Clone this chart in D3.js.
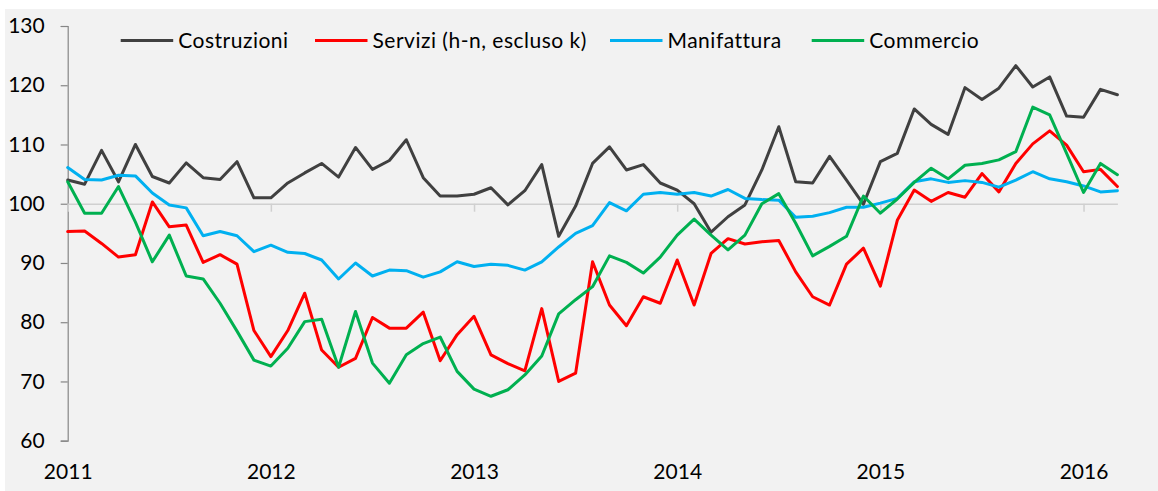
<!DOCTYPE html>
<html>
<head>
<meta charset="utf-8">
<script src="https://cdn.jsdelivr.net/npm/d3@7"></script>
<style>
  html, body { margin: 0; padding: 0; background: #ffffff; }
  svg { display: block; }
  text { font-family: Lato, "Open Sans", sans-serif; fill: #000; }
</style>
</head>
<body>
<svg id="chart" width="1158" height="491"></svg>
<script>
// ---- Data (monthly, Jan 2011 - Mar 2016) ----
const yearLabels = ["2011", "2012", "2013", "2014", "2015", "2016"];
const yTicks = [60, 70, 80, 90, 100, 110, 120, 130];
const seriesNames = ["Costruzioni", "Servizi (h-n, escluso k)", "Manifattura", "Commercio"];

const costruzioni = [104.0,103.3,109.0,103.7,110.0,104.6,103.5,106.9,104.4,104.1,107.1,101.0,
  101.0,103.5,105.2,106.8,104.5,109.5,105.8,107.3,110.8,104.4,101.3,101.3,
  101.6,102.7,99.8,102.2,106.6,94.5,99.6,106.8,109.6,105.7,106.6,103.5,
  102.3,100.0,95.2,97.8,99.8,105.7,113.0,103.7,103.5,108.0,104.0,99.9,
  107.1,108.5,116.0,113.4,111.7,119.6,117.6,119.5,123.3,119.7,121.4,114.8,
  114.6,119.3,118.4];
const servizi = [95.3,95.4,93.3,91.0,91.4,100.3,96.1,96.4,90.1,91.4,89.8,78.6,
  74.2,78.6,84.9,75.3,72.4,73.9,80.8,79.0,79.0,81.7,73.5,77.9,
  81.0,74.5,73.0,71.8,82.3,70.0,71.4,90.2,82.9,79.4,84.3,83.2,
  90.5,82.9,91.6,94.1,93.2,93.6,93.8,88.5,84.3,82.9,89.8,92.5,
  86.1,97.2,102.3,100.4,101.9,101.1,105.1,102.0,106.8,110.1,112.3,109.9,
  105.4,105.8,102.9];
const manifattura = [106.1,104.1,104.0,104.8,104.7,101.8,99.8,99.3,94.6,95.3,94.6,91.9,
  93.0,91.8,91.6,90.5,87.3,90.0,87.8,88.8,88.7,87.6,88.5,90.2,
  89.4,89.8,89.6,88.8,90.2,92.7,95.0,96.3,100.2,98.8,101.6,101.9,
  101.6,101.9,101.3,102.4,100.9,100.7,100.6,97.7,97.9,98.5,99.4,99.4,
  100.1,100.9,103.7,104.2,103.6,103.9,103.6,102.8,104.0,105.4,104.2,103.7,
  103.0,102.0,102.2];
const commercio = [103.7,98.4,98.4,102.9,96.9,90.2,94.7,87.8,87.3,83.2,78.5,73.6,
  72.6,75.6,80.1,80.5,72.4,81.8,73.1,69.7,74.5,76.4,77.5,71.7,
  68.7,67.5,68.6,71.1,74.3,81.4,83.8,86.0,91.2,90.1,88.3,91.0,
  94.7,97.4,94.7,92.2,94.7,100.0,101.7,96.7,91.2,92.8,94.5,101.3,
  98.4,100.8,103.6,106.0,104.2,106.5,106.8,107.4,108.8,116.3,115.0,108.5,
  101.9,106.8,104.9];

const seriesValues = [costruzioni, servizi, manifattura, commercio];
const seriesColors = ["#404040", "#FF0000", "#00B0F0", "#00B050"];

// ---- Layout ----
const svg = d3.select("#chart");
svg.append("rect").attr("x", 5).attr("y", 9).attr("width", 1153).attr("height", 482).attr("fill", "#F2F2F2");

const n = costruzioni.length;
const x = d3.scaleLinear().domain([0, n - 1]).range([67.7, 1117.4]);
const y = d3.scaleLinear().domain([60, 130]).range([440.7, 26]);

// Y axis
const yAxis = d3.axisLeft(y).tickValues(yTicks).tickSize(7).tickPadding(16).tickFormat(d3.format("d"));
const gy = svg.append("g").attr("transform", `translate(${x(0)},0)`).call(yAxis);
gy.select(".domain").attr("stroke", "#868686").attr("stroke-width", 1.2);
gy.selectAll(".tick line").attr("stroke", "#868686").attr("stroke-width", 1.2);
gy.selectAll(".tick text").style("font-size", "21px").attr("fill", "#000");

// X axis line at y=100 with yearly ticks
const janIdx = yearLabels.map((d, i) => i * 12);
const xAxis = d3.axisBottom(x).tickValues(janIdx).tickSize(8).tickSizeOuter(0).tickFormat("");
const gx = svg.append("g").attr("transform", `translate(0,${y(100)})`).call(xAxis);
gx.select(".domain").attr("stroke", "#D0D0D0").attr("stroke-width", 1.5);
gx.selectAll(".tick line").attr("stroke", "#D0D0D0").attr("stroke-width", 1.5);

// Year labels at bottom
const labelAxis = d3.axisBottom(x).tickValues(janIdx).tickSize(0).tickPadding(0)
  .tickFormat((d, i) => yearLabels[i]);
const gl = svg.append("g").attr("transform", `translate(0,464.5)`).call(labelAxis);
gl.select(".domain").remove();
gl.selectAll(".tick text").style("font-size", "21px").attr("fill", "#000");

// Lines
const line = d3.line().x((d, i) => x(i)).y(d => y(d));
seriesValues.forEach((vals, k) => {
  svg.append("path").datum(vals)
    .attr("d", line)
    .attr("fill", "none")
    .attr("stroke", seriesColors[k])
    .attr("stroke-width", 3)
    .attr("stroke-linejoin", "round")
    .attr("stroke-linecap", "round");
});

// Legend
const legendX = [120.7, 315, 610, 811.7];
const legendY = 40.5;
seriesNames.forEach((name, k) => {
  const g = svg.append("g").attr("transform", `translate(${legendX[k]},${legendY})`);
  g.append("line").attr("x1", 0).attr("x2", 52.5).attr("y1", 0).attr("y2", 0)
    .attr("stroke", seriesColors[k]).attr("stroke-width", 3);
  g.append("text").attr("x", 57.5).attr("y", 0).attr("dy", "0.35em")
    .style("font-size", "21px").style("letter-spacing", "0.5px").text(name);
});
</script>
</body>
</html>
